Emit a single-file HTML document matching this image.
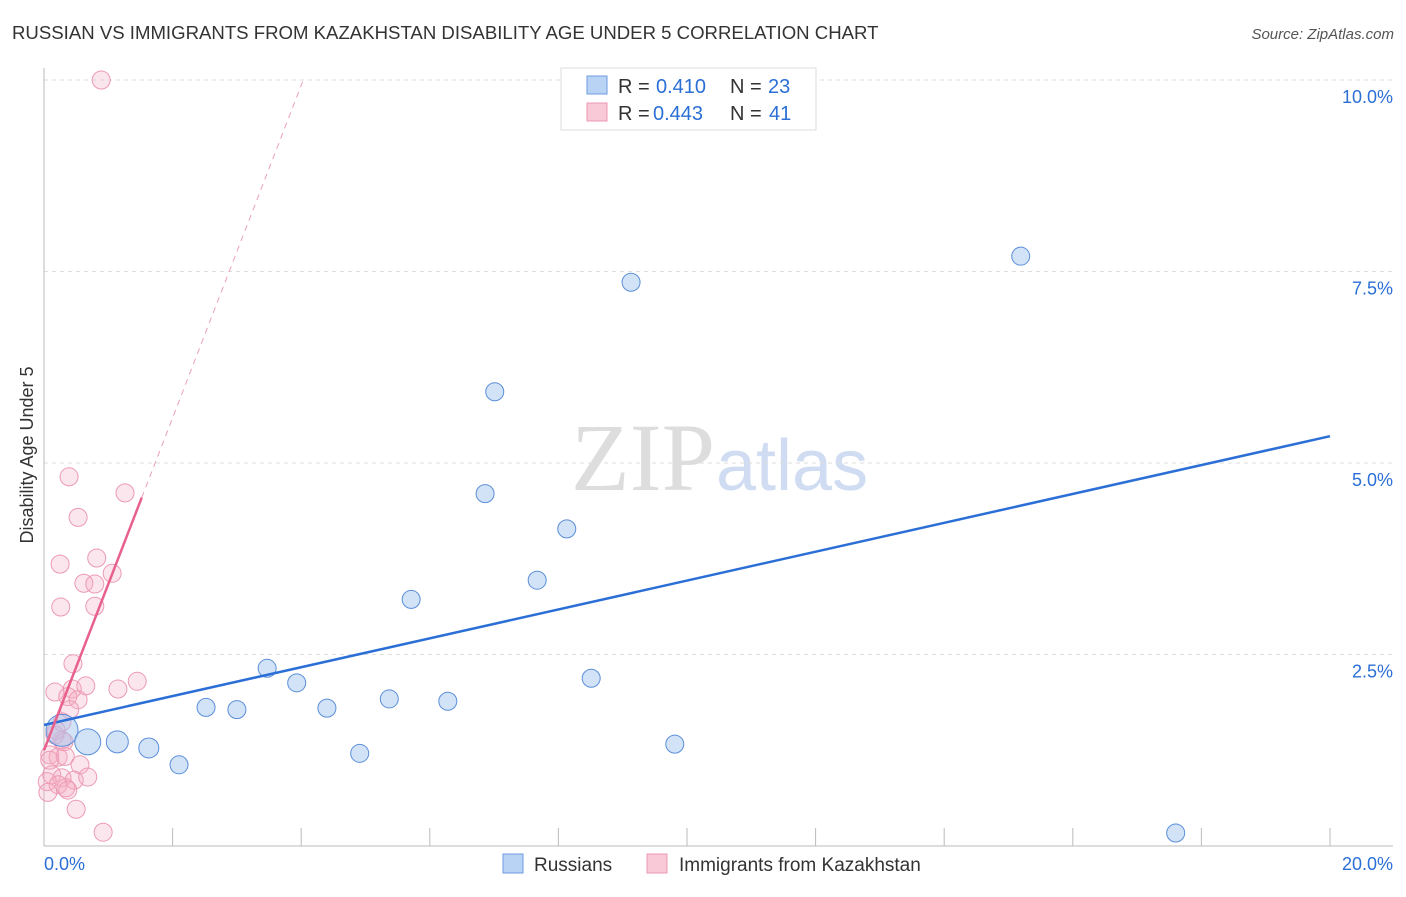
<!DOCTYPE html>
<html><head><meta charset="utf-8"><style>
body{margin:0;background:#fff;font-family:"Liberation Sans",sans-serif}
</style></head><body>
<svg width="1406" height="892" xmlns="http://www.w3.org/2000/svg" font-family="Liberation Sans, sans-serif">
<text x="12" y="39" font-size="18.6" fill="#333">RUSSIAN VS IMMIGRANTS FROM KAZAKHSTAN DISABILITY AGE UNDER 5 CORRELATION CHART</text>
<text x="1394" y="39" font-size="15" fill="#555" font-style="italic" text-anchor="end">Source: ZipAtlas.com</text>
<text x="715" y="490" font-size="96" fill="#ddd" text-anchor="end" font-family="Liberation Serif, serif">ZIP</text>
<text x="716" y="490" font-size="72" fill="#cfdcf2">atlas</text>
<g id="grid"></g>
<g id="axes"></g>
<text transform="translate(33,455) rotate(-90)" font-size="18" fill="#333" text-anchor="middle">Disability Age Under 5</text>
<g id="marks"></g>
<g>
<rect x="561" y="68" width="255" height="62" fill="#fff" stroke="#ddd"/>
<rect x="587" y="76" width="20" height="18" fill="#b9d3f5" stroke="#6d9be0"/>
<text x="618" y="93" font-size="20" fill="#333">R =</text>
<text x="656" y="93" font-size="20" fill="#2b6fd6">0.410</text>
<text x="730" y="93" font-size="20" fill="#333">N =</text>
<text x="768" y="93" font-size="20" fill="#2b6fd6">23</text>
<rect x="587" y="103" width="20" height="18" fill="#f9c9d7" stroke="#eb98b2"/>
<text x="618" y="120" font-size="20" fill="#333">R =</text>
<text x="653" y="120" font-size="20" fill="#2b6fd6">0.443</text>
<text x="730" y="120" font-size="20" fill="#333">N =</text>
<text x="769" y="120" font-size="20" fill="#2b6fd6">41</text>
</g>
<g>
<rect x="503" y="854" width="20" height="19" fill="#b9d3f5" stroke="#6d9be0"/>
<text x="534" y="871" font-size="19" fill="#333">Russians</text>
<rect x="647" y="854" width="20" height="19" fill="#f9c9d7" stroke="#eb98b2"/>
<text x="679" y="871" font-size="19" fill="#333">Immigrants from Kazakhstan</text>
</g>
</svg>
<script>
const xTicks=[0,2,4,6,8,10,12,14,16,18,20];
const yTicks=[2.5,5.0,7.5,10.0];
const blueX=[0.28,0.68,1.14,1.63,2.10,2.52,3.00,3.47,3.93,4.40,4.91,5.37,5.71,6.28,6.86,7.01,7.67,8.13,8.51,9.13,9.81,15.19,17.60];
const blueY=[1.51,1.36,1.36,1.28,1.06,1.81,1.78,2.32,2.13,1.80,1.21,1.92,3.22,1.89,4.60,5.93,3.47,4.14,2.19,7.36,1.33,7.70,0.17];
const blueR=[16,13,11,10,9,9,9,9,9,9,9,9,9,9,9,9,9,9,9,9,9,9,9];
const pinkX=[0.89,0.39,1.26,0.53,0.25,0.82,0.62,0.79,1.06,0.26,0.79,0.45,0.17,0.44,0.65,1.15,1.45,0.37,0.53,0.40,0.28,0.17,0.28,0.09,0.22,0.33,0.56,0.12,0.28,0.47,0.05,0.22,0.34,0.06,0.37,0.50,0.92,0.09,0.68,0.31,0.19];
const pinkY=[10.0,4.82,4.61,4.29,3.68,3.76,3.43,3.42,3.56,3.12,3.13,2.38,2.01,2.05,2.09,2.05,2.15,1.95,1.91,1.78,1.62,1.45,1.38,1.19,1.16,1.17,1.06,0.93,0.89,0.86,0.84,0.80,0.76,0.70,0.73,0.48,0.18,1.12,0.90,1.36,1.51];
const blueLine=[1.58,5.35];
const pinkLine=[1.25,2.17];
const NS="http://www.w3.org/2000/svg";
const X=v=>44+v/20*1286, Y=v=>846-v*76.6;
function mk(t,a,p){const e=document.createElementNS(NS,t);for(const k in a)e.setAttribute(k,a[k]);document.getElementById(p).appendChild(e);return e;}
yTicks.forEach(t=>{
 const l=mk('line',{x1:44,x2:1393,y1:Y(t),y2:Y(t),stroke:'#ddd','stroke-dasharray':'4,4'},'grid');
 
 
 const tx=mk('text',{x:1393,y:Y(t)+23,'font-size':18,fill:'#2b6fd6','text-anchor':'end'},'grid');
 tx.textContent=t.toFixed(1)+'%';
 
 
});
mk('line',{x1:44,x2:44,y1:68,y2:846,stroke:'#bbb'},'axes');
mk('line',{x1:44,x2:1393,y1:846,y2:846,stroke:'#bbb'},'axes');
xTicks.forEach(t=>{
 const l=mk('line',{x1:X(t),x2:X(t),y1:828,y2:846,stroke:'#bbb'},'axes');
 
 
});
[[0,'start'],[20,'end']].forEach(([t,a])=>{
 const tx=mk('text',{x:t==0?X(t):X(t)+63,y:870,'font-size':18,fill:'#2b6fd6','text-anchor':a},'axes');
 tx.textContent=t.toFixed(1)+'%';
 
 
});
pinkX.forEach((x,i)=>{
 const c=mk('circle',{cx:X(x),cy:Y(pinkY[i]),r:9,fill:'rgba(246,172,196,0.3)',stroke:'#ec9ab4','stroke-width':1},'marks');
 
 
});
blueX.forEach((x,i)=>{
 const c=mk('circle',{cx:X(x),cy:Y(blueY[i]),r:blueR[i],fill:'rgba(165,198,240,0.5)',stroke:'#5b8fd9','stroke-width':1},'marks');
 
 
});
let bl=mk('line',{x1:X(0),y1:Y(blueLine[0]),x2:X(20),y2:Y(blueLine[1]),stroke:'#2b6fd6','stroke-width':2.5},'marks');


let pl=mk('line',{x1:X(0),y1:Y(pinkLine[0]),x2:X(1.52),y2:Y(pinkLine[0]+pinkLine[1]*1.52),stroke:'#e8608c','stroke-width':2.5},'marks');


const xe=(10-pinkLine[0])/pinkLine[1];
let pd=mk('line',{x1:X(1.52),y1:Y(pinkLine[0]+pinkLine[1]*1.52),x2:X(xe),y2:Y(10),stroke:'#eca0b8','stroke-width':1,'stroke-dasharray':'6,5'},'marks');


</script>
</body></html>
